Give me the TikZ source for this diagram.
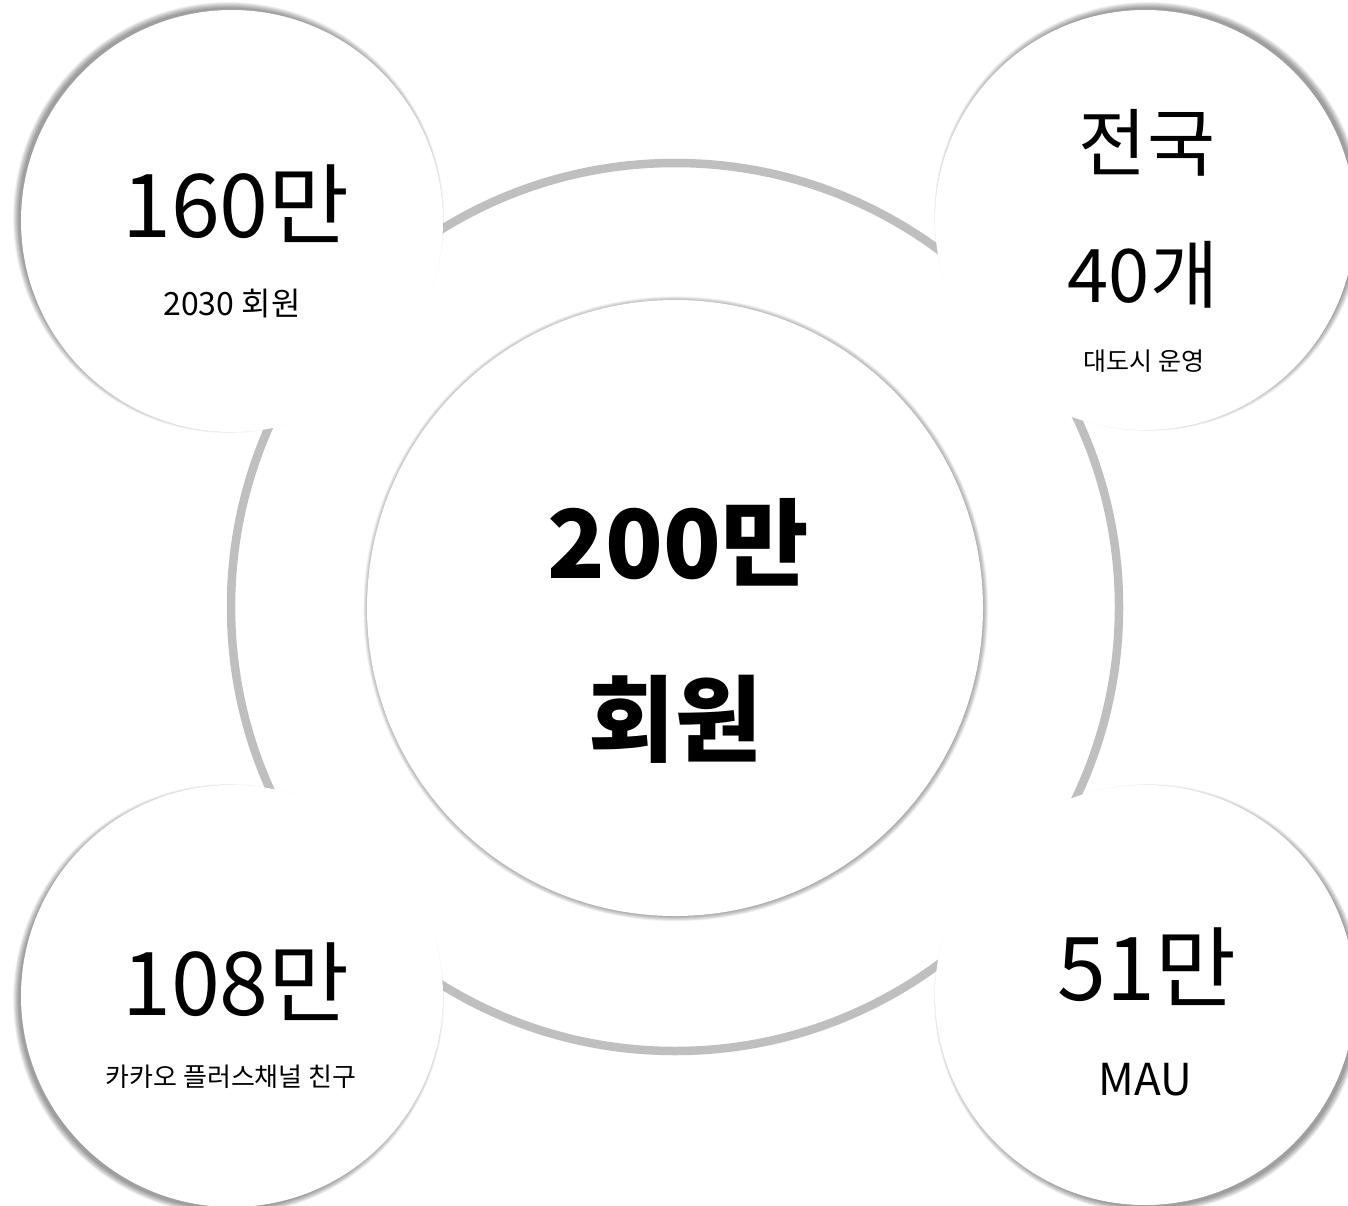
\documentclass[tikz,border=0pt]{standalone}
\usepackage{fontspec}
\setmainfont{Noto Sans CJK KR}
\definecolor{ringgray}{HTML}{BFBFBF}
\tikzset{
  ringshape/.style={circle, draw=ringgray, line width=8.5pt, minimum size=888pt, inner sep=0pt},
  disc/.style={circle, fill=white, inner sep=0pt, minimum size=#1},
  lbl/.style={anchor=base, inner sep=0pt, text=black, font=\fontsize{#1}{#1}\selectfont},
  blbl/.style={anchor=base, inner sep=0pt, text=black, font=\fontsize{#1}{#1}\selectfont\bfseries},
}
\begin{document}
\begin{tikzpicture}[x=1pt,y=-1pt]
\useasboundingbox (0,0) rectangle (1348,1206);
\fill[white] (0,0) rectangle (1348,1206);
% ring
\node[ringshape] (ring) at (675,607) {};
% shadows
\foreach \cx/\cy/\r/\dx/\dy in {232/221/211/-3.5/-3.5, 1145/220/210/3.5/-3.5, 232/996/211/-3.5/3.5, 1145/995/210/3.5/3.5, 675/608/308/0.8/0.8}{
  \foreach \k in {1,...,8}{
    \fill[black,opacity=0.055] (\cx+\dx,\cy+\dy) circle[radius=\r+\k*0.8-2];
  }
}
% discs
\node[disc=422pt] (tl) at (232,221) {};
\node[disc=420pt] (tr) at (1145,220) {};
\node[disc=422pt] (bl) at (232,996) {};
\node[disc=420pt] (br) at (1145,995) {};
\node[disc=616pt] (c) at (675,608) {};
% texts
\node[lbl=88] (tlnum) at (236,237) {160만};
\node[lbl=32] (tlsub) at (232,315) {2030 회원};
\node[lbl=74] (trtop) at (1147,171) {전국};
\node[lbl=74] (trnum) at (1143,302) {40개};
\node[lbl=25] (trsub) at (1144,370) {대도시 운영};
\node[lbl=88] (blnum) at (236,1015) {108만};
\node[lbl=26] (blsub) at (231,1086) {카카오 플러스채널 친구};
\node[lbl=88] (brnum) at (1147,1000) {51만};
\node[lbl=44] (brsub) at (1145,1095) {MAU};
\node[blbl=95] (cnum) at (678,578) {200만};
\node[blbl=94] (csub) at (675,754) {회원};
\end{tikzpicture}
\end{document}
